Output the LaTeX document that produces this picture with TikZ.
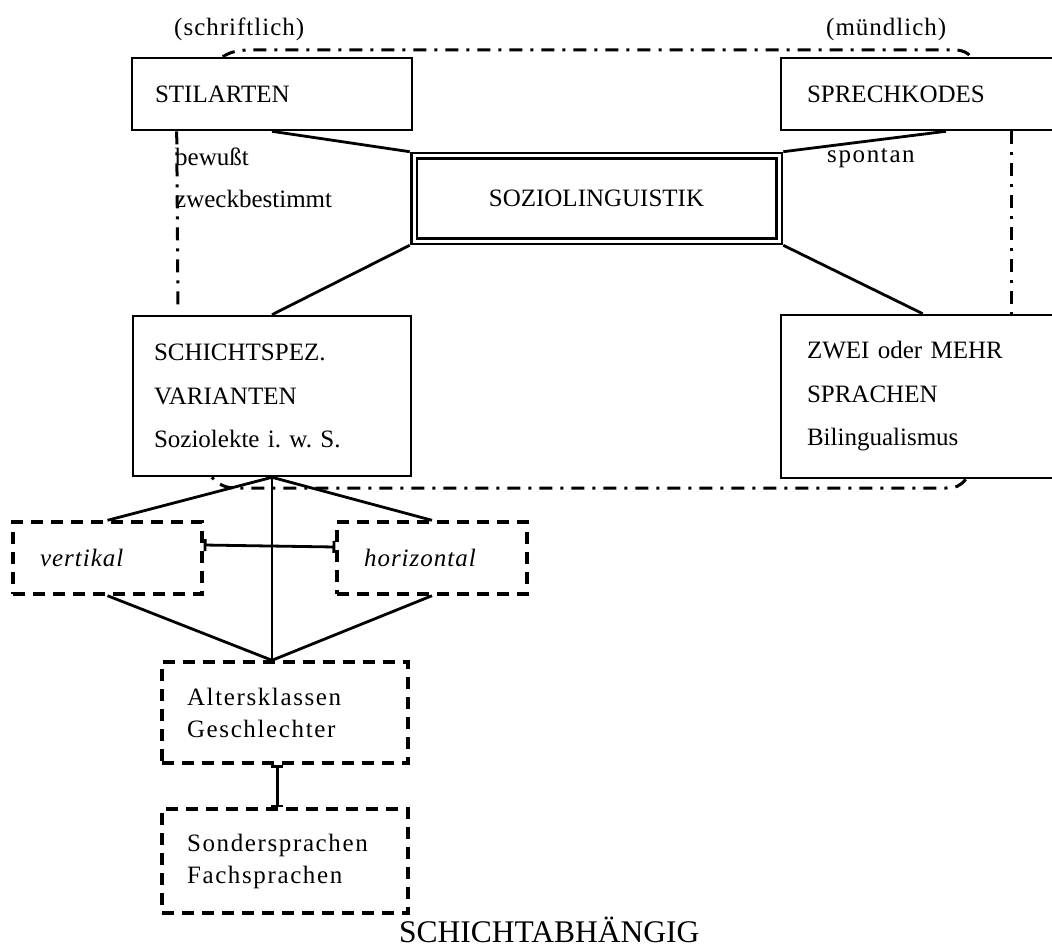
\documentclass[tikz,border=0pt]{standalone}
\usepackage{fontspec}
\setmainfont{Liberation Serif}
\newfontfamily\lsfont{Liberation Serif}[LetterSpace=6.5]
\newfontfamily\lsafont{Liberation Serif}[LetterSpace=4]
\usetikzlibrary{arrows.meta,calc}
\newcommand\txtsize{\fontsize{25}{43.5}\selectfont\frenchspacing}
\newcommand\smsize{\fontsize{25}{32}\selectfont}
\begin{document}
\begin{tikzpicture}[x=1pt,y=-1pt,
  tbox/.style={draw, line width=2.6pt, fill=white, inner ysep=0pt, align=left, font=\txtsize},
  dbox/.style={draw, line width=3.4pt, dash pattern=on 12pt off 8pt, fill=white, inner ysep=0pt, align=left},
  conn/.style={line width=2.8pt},
  loopline/.style={line width=3pt, dash pattern=on 13pt off 8pt on 3pt off 8pt},
  lbl/.style={inner sep=0pt, anchor=base west, font=\txtsize}]
\useasboundingbox (0,0) rectangle (1052,947);
\clip (0,0) rectangle (1052,947);
\fill[white] (0,0) rectangle (1052,947);

% boxes
\node[tbox, minimum width=280pt, minimum height=72pt, inner xsep=23pt, text width=234pt] (stil) at (272,94) {STILARTEN};
\node[tbox, minimum width=330pt, minimum height=72pt, inner xsep=26pt, text width=278pt] (sprech) at (946,94) {SPRECHKODES};
\node[draw, double, line width=2.8pt, double distance=3pt, fill=white, minimum width=365pt, minimum height=85pt, outer sep=4.3pt, font=\txtsize] (soz) at (596.5,198.5) {SOZIOLINGUISTIK};
\node[tbox, minimum height=160pt, inner xsep=21pt, text width=236pt] (schicht) at (272,396) {SCHICHTSPEZ.\\VARIANTEN\\Soziolekte i. w. S.};
\node[tbox, minimum height=163pt, inner xsep=26pt, text width=278pt] (zwei) at (946,396.5) {ZWEI oder MEHR\\SPRACHEN\\Bilingualismus};

\node[dbox, minimum width=189pt, minimum height=72pt, inner xsep=27pt, text width=135pt, font={\lsafont\itshape\txtsize}] (vert) at (107.5,558) {vertikal};
\node[dbox, minimum width=190pt, minimum height=72pt, inner xsep=27pt, text width=136pt, font={\lsafont\itshape\txtsize}] (hor) at (432,558) {horizontal};
\node[dbox, minimum width=246pt, minimum height=101pt, inner xsep=25pt, text width=196pt, font={\lsfont\smsize}] (alt) at (285,712.5) {Altersklassen\\Geschlechter};
\node[dbox, minimum width=246pt, minimum height=104pt, inner xsep=25pt, text width=196pt, font={\lsfont\smsize}] (son) at (285,861) {Sondersprachen\\Fachsprachen};

% dash-dot loop (visible pieces)
\draw[loopline] ($(stil.north west)+(92,0)$) .. controls (232,51) and (240,50) .. (252,50) -- (955,50) .. controls (963,50) and (968,53) .. ($(sprech.north west)+(191,0)$);
\draw[loopline] ($(sprech.south west)+(232,0)$) -- ($(zwei.north west)+(232,0)$);
\draw[loopline] ($(zwei.south west)+(186,0)$) .. controls (960,486) and (956,488) .. (946,488) -- (236,488) .. controls (226,488) and (219,485) .. ($(schicht.south west)+(80,0)$);
\draw[loopline] ($(stil.south west)+(46,0)$) -- (178,307);

% connectors
\draw[conn] (stil.south) -- (soz.north west);
\draw[conn] (sprech.south) -- (soz.north east);
\draw[conn] (soz.south west) -- (schicht.north);
\draw[conn] (soz.south east) -- ($(zwei.north west)+(143,0)$);

\coordinate (aj) at (schicht.south |- alt.north);
\draw[conn] (schicht.south) -- (vert.north);
\draw[conn] (schicht.south) -- (hor.north);
\draw[conn] (schicht.south) -- (aj);
\draw[conn] (vert.south) -- (aj);
\draw[conn] (hor.south) -- (aj);
\draw[conn, {Bar[width=12pt]}-{Bar[width=12pt]}] ([yshift=13pt]vert.east) -- ([yshift=11pt]hor.west);
\draw[conn, {Bar[width=12pt]}-{Bar[width=12pt]}] ($(alt.south west)+(117,0)$) -- ($(son.north west)+(117,0)$);

% labels
\node[lbl, font={\lsafont\txtsize}] (schr) at (174,36) {(schriftlich)};
\node[lbl, font={\lsafont\txtsize}] (mund) at (826,36) {(mündlich)};
\node[lbl] (bew) at (175,165) {bewußt};
\node[lbl] (zweck) at (175,207) {zweckbestimmt};
\node[lbl, font={\lsfont\txtsize}] (spon) at (827,163) {spontan};
\node[inner sep=0pt, anchor=base west, font=\fontsize{31.5}{36}\selectfont] (title) at (399,942) {SCHICHTABHÄNGIG};
\end{tikzpicture}
\end{document}
